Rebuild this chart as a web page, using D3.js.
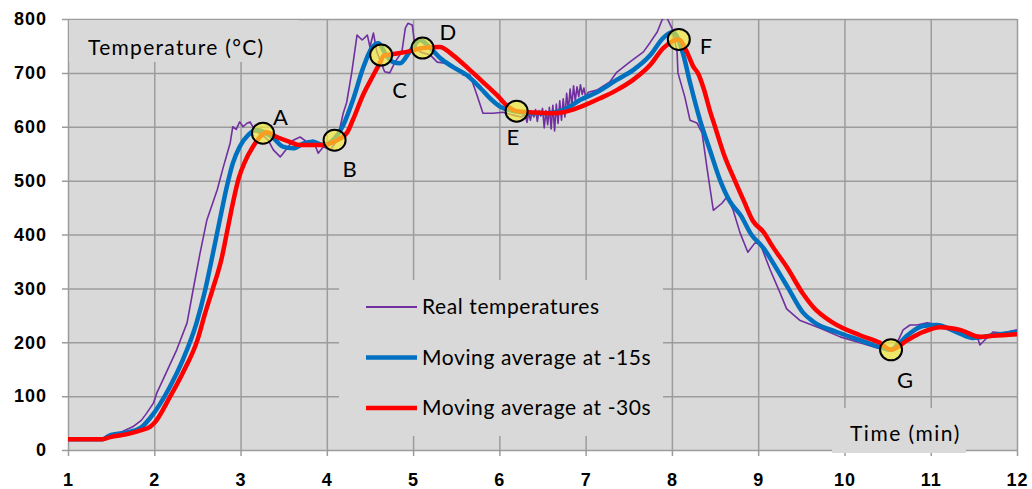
<!DOCTYPE html>
<html>
<head>
<meta charset="utf-8">
<script src="https://cdn.jsdelivr.net/npm/d3@7"></script>
<style>
  body { margin: 0; background: #fff; }
  svg { display: block; font-family: Lato, "Liberation Sans", sans-serif; }
</style>
</head>
<body>
<svg id="chart" width="1032" height="489"></svg>
<script>
// time (min), temperature (°C)
var realTemp = [[1.0,20],[1.4,20],[1.45,27],[1.6,32],[1.75,43],[1.85,55],[1.91,68],[1.99,87],[2.03,106],[2.10,130],[2.26,186],[2.38,236],[2.45,297],[2.53,365],[2.61,427],[2.73,483],[2.80,525],[2.88,570],[2.91,600],[2.95,595],[2.99,609],[3.03,600],[3.07,606],[3.11,609],[3.15,598],[3.19,590],[3.25,585],[3.32,575],[3.38,557],[3.46,544],[3.54,560],[3.61,575],[3.69,581],[3.77,572],[3.84,575],[3.90,551],[3.96,563],[4.04,557],[4.12,575],[4.19,625],[4.23,645],[4.29,702],[4.35,770],[4.41,761],[4.47,770],[4.50,748],[4.54,774],[4.58,739],[4.67,702],[4.73,700],[4.79,720],[4.87,739],[4.91,783],[4.94,792],[4.99,789],[5.02,752],[5.08,739],[5.20,733],[5.28,720],[5.37,718],[5.51,709],[5.58,696],[5.66,696],[5.74,659],[5.81,625],[5.93,625],[6.04,627],[6.15,622],[6.25,618],[6.30,622],[6.32,608],[6.34,626],[6.36,612],[6.38,628],[6.40,618],[6.42,632],[6.44,610],[6.46,630],[6.48,620],[6.50,634],[6.52,598],[6.54,630],[6.56,604],[6.58,636],[6.60,596],[6.62,640],[6.64,592],[6.66,642],[6.68,606],[6.70,648],[6.72,612],[6.74,652],[6.76,618],[6.78,662],[6.80,630],[6.82,670],[6.84,640],[6.86,676],[6.88,648],[6.90,674],[6.92,656],[6.94,678],[6.96,660],[6.98,672],[7.00,655],[7.03,664],[7.13,668],[7.28,683],[7.36,701],[7.51,720],[7.67,739],[7.75,757],[7.83,776],[7.89,800],[7.94,803],[8.0,783],[8.06,739],[8.07,700],[8.15,655],[8.21,612],[8.29,607],[8.35,588],[8.41,520],[8.48,445],[8.58,458],[8.64,470],[8.71,445],[8.79,403],[8.88,367],[8.96,384],[9.02,384],[9.14,334],[9.25,293],[9.33,262],[9.48,241],[9.72,226],[9.95,210],[10.18,199],[10.39,189],[10.54,186],[10.61,199],[10.68,223],[10.76,232],[10.84,232],[10.96,236],[11.11,232],[11.26,223],[11.42,213],[11.54,210],[11.57,195],[11.65,208],[11.72,219],[11.84,217],[12.0,223]];

var avg15 = [[1.0,20],[1.4,20],[1.5,28],[1.7,33],[1.85,42],[1.95,59],[2.18,117],[2.33,167],[2.49,236],[2.59,297],[2.68,365],[2.78,443],[2.84,488],[2.91,532],[2.99,563],[3.09,585],[3.19,594],[3.27,590],[3.38,579],[3.49,563],[3.61,560],[3.73,569],[3.84,572],[3.96,566],[4.09,578],[4.19,603],[4.31,653],[4.42,709],[4.52,746],[4.60,755],[4.68,735],[4.77,720],[4.85,718],[4.96,739],[5.08,761],[5.20,746],[5.31,728],[5.46,711],[5.62,696],[5.78,672],[5.89,653],[6.01,637],[6.12,631],[6.2,628],[6.36,625],[6.55,625],[6.74,631],[6.94,650],[7.13,664],[7.36,687],[7.55,705],[7.75,733],[7.90,765],[8.01,776],[8.13,735],[8.21,682],[8.33,610],[8.44,557],[8.56,500],[8.67,462],[8.80,435],[8.92,400],[9.06,375],[9.20,340],[9.35,300],[9.52,255],[9.64,238],[9.91,219],[10.18,204],[10.41,191],[10.54,186],[10.73,213],[10.91,230],[11.07,232],[11.30,219],[11.49,208],[11.72,213],[12.0,219]];

var avg30 = [[1.0,20],[1.4,20],[1.49,24],[1.7,30],[1.85,37],[1.95,43],[2.0,50],[2.18,98],[2.33,143],[2.5,204],[2.59,254],[2.68,300],[2.78,355],[2.85,410],[2.92,465],[2.98,505],[3.05,535],[3.14,562],[3.25,585],[3.3,590],[3.42,581],[3.57,572],[3.69,566],[3.96,566],[4.09,573],[4.23,588],[4.30,612],[4.42,659],[4.54,696],[4.62,720],[4.66,732],[4.77,735],[4.93,739],[5.11,746],[5.31,748],[5.46,733],[5.66,705],[5.81,683],[5.97,659],[6.12,635],[6.2,629],[6.36,627],[6.59,625],[6.74,627],[6.94,637],[7.17,653],[7.36,668],[7.55,687],[7.75,715],[7.90,746],[8.08,762],[8.17,740],[8.25,711],[8.30,700],[8.37,670],[8.44,630],[8.5,600],[8.6,550],[8.73,500],[8.84,460],[8.94,425],[9.06,405],[9.17,377],[9.33,340],[9.52,290],[9.64,265],[9.87,236],[10.18,213],[10.41,199],[10.54,186],[10.73,204],[10.91,219],[11.11,228],[11.34,223],[11.57,210],[11.72,212],[12.0,215]];

var pointNames = ["A","B","C","D","E","F","G"];
var pointTimes = [3.26, 4.09, 4.63, 5.11, 6.20, 8.08, 10.54];
var pointTemps = [588, 575, 733, 746, 629, 762, 186];

var seriesNames = ["Real temperatures", "Moving average at -15s", "Moving average at -30s"];
var xTicks = [1,2,3,4,5,6,7,8,9,10,11,12];
var yTicks = [0,100,200,300,400,500,600,700,800];

var svg = d3.select("#chart");
var pl = 68, pr = 1017, pt = 19, pb = 450;

var x = d3.scaleLinear().domain([1, 12]).range([pl, pr]);
var y = d3.scaleLinear().domain([0, 800]).range([pb, pt]);

var gridCol = "#9c9c9c";
var boxCol = "#d9d9d9";

svg.append("rect").attr("x", pl).attr("y", pt)
  .attr("width", pr - pl).attr("height", pb - pt).attr("fill", boxCol);

// y grid + labels
var gy = svg.append("g").attr("transform", "translate(" + (pl - 6) + ",0)")
  .call(d3.axisLeft(y).tickValues(yTicks).tickSize(-(pr - pl + 6)).tickPadding(15));
gy.select(".domain").remove();
gy.selectAll("line").attr("stroke", gridCol).attr("stroke-width", 1.5);
gy.selectAll("text").attr("font-size", 18).attr("font-weight", "bold").attr("letter-spacing", 1).attr("fill", "#000");

// x grid + labels
var gx = svg.append("g").attr("transform", "translate(0," + (pb + 6) + ")")
  .call(d3.axisBottom(x).tickValues(xTicks).tickSize(-(pb - pt + 6)).tickPadding(17));
gx.select(".domain").remove();
gx.selectAll("line").attr("stroke", gridCol).attr("stroke-width", 1.5);
gx.selectAll("text").attr("font-size", 18).attr("font-weight", "bold").attr("letter-spacing", 1).attr("fill", "#000");

// axis title boxes
svg.append("rect").attr("x", pl + 1).attr("y", pt + 1).attr("width", 230).attr("height", 42).attr("fill", boxCol);
svg.append("text").attr("x", 88).attr("y", 55).attr("font-size", 21).attr("letter-spacing", 1.3).text("Temperature (°C)");

svg.append("rect").attr("x", 832).attr("y", 408).attr("width", 134).attr("height", 45).attr("fill", boxCol);
svg.append("text").attr("x", 850).attr("y", 441).attr("font-size", 21).attr("letter-spacing", 1.5).text("Time (min)");

// legend
var legendStyle = [{c: "#7030a0", w: 2}, {c: "#0070c0", w: 4.5}, {c: "#ff0000", w: 4.5}];
svg.append("rect").attr("x", 339).attr("y", 280).attr("width", 324).attr("height", 156).attr("fill", boxCol);
var lg = svg.append("g").selectAll("g").data(seriesNames).join("g")
  .attr("transform", function(d, i) { return "translate(366," + (307 + i * 50.5) + ")"; });
lg.append("line").attr("x1", 0).attr("x2", 51)
  .attr("stroke", function(d, i) { return legendStyle[i].c; })
  .attr("stroke-width", function(d, i) { return legendStyle[i].w; });
lg.append("text").attr("x", 56).attr("y", 7).attr("font-size", 21).attr("letter-spacing", 0.6)
  .text(function(d) { return d; });

// series
svg.append("clipPath").attr("id", "plotClip").append("rect")
  .attr("x", pl).attr("y", pt).attr("width", pr - pl).attr("height", pb - pt);
var plot = svg.append("g").attr("clip-path", "url(#plotClip)");

var rough = d3.line().x(function(d) { return x(d[0]); }).y(function(d) { return y(d[1]); });
var smooth = d3.line().curve(d3.curveMonotoneX).x(function(d) { return x(d[0]); }).y(function(d) { return y(d[1]); });

plot.append("path").datum(realTemp).attr("d", rough).attr("fill", "none")
  .attr("stroke", "#7030a0").attr("stroke-width", 1.6).attr("stroke-linejoin", "round");
plot.append("path").datum(avg15).attr("d", smooth).attr("fill", "none")
  .attr("stroke", "#0070c0").attr("stroke-width", 4.5).attr("stroke-linejoin", "round");
plot.append("path").datum(avg30).attr("d", smooth).attr("fill", "none")
  .attr("stroke", "#ff0000").attr("stroke-width", 4.5).attr("stroke-linejoin", "round");

// marked points
var labelShift = {A: [10, -8], B: [8, 37], C: [11, 43], D: [17, -8], E: [-10, 34], F: [21, 15], G: [6, 38]};
var pts = svg.append("g").selectAll("g").data(pointNames).join("g")
  .attr("transform", function(d, i) { return "translate(" + x(pointTimes[i]) + "," + y(pointTemps[i]) + ")"; });
pts.append("ellipse").attr("rx", 11).attr("ry", 10.5)
  .attr("fill", "#f8f030").attr("fill-opacity", 0.65).attr("stroke", "#000").attr("stroke-width", 2);
pts.append("text").attr("font-size", 22)
  .attr("x", function(d) { return labelShift[d][0]; })
  .attr("y", function(d) { return labelShift[d][1]; })
  .text(function(d) { return d; });
</script>
</body>
</html>
